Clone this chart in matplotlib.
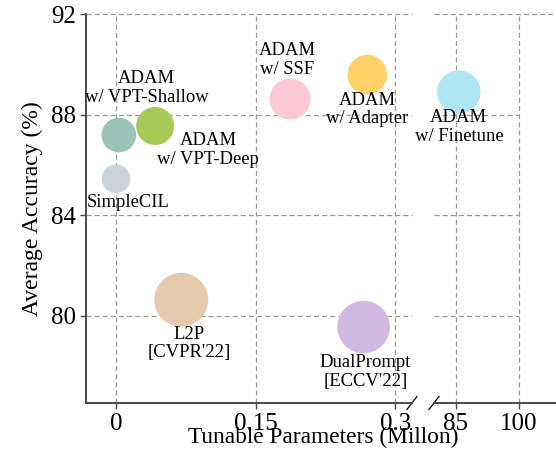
import matplotlib
matplotlib.use("Agg")
import matplotlib.pyplot as plt

plt.rcParams['font.family'] = ['Liberation Serif', 'DejaVu Serif']

# ---- data ----
methods = ["SimpleCIL", "ADAM\nw/ VPT-Shallow", "ADAM\nw/ VPT-Deep", "ADAM\nw/ SSF",
           "ADAM\nw/ Adapter", "ADAM\nw/ Finetune", "L2P\n[CVPR'22]", "DualPrompt\n[ECCV'22]"]
params_m = [0.0, 0.003, 0.042, 0.187, 0.270, 85.7, 0.070, 0.266]
accuracy = [85.45, 87.19, 87.55, 88.62, 89.59, 88.90, 80.64, 79.56]
colors = ["#CDD3DA", "#9CC3B8", "#A7C957", "#FFC8D5", "#FFD166", "#AEE6F2", "#E6CAAD", "#D3B8E2"]
left_xticks = [0, 0.15, 0.3]
left_xticklabels = ["0", "0.15", "0.3"]
right_xticks = [85, 100]
right_xticklabels = ["85", "100"]
yticks = [80, 84, 88, 92]

# style: bubble radius (pixels) and label offsets (pixels)
radius_px = [14.3, 17.3, 19.0, 20.5, 19.8, 21.7, 27.0, 26.3]
label_off = [(12, -24), (28, 47), (53, -24), (-3, 39), (0, -35), (0, -35), (8, -44), (2, -45)]

W, H = 556, 453
dpi = 100
fig = plt.figure(figsize=(W / dpi, H / dpi), dpi=dpi)

def frac(x0, x1, y0, y1):
    return [x0 / W, 1 - y1 / H, (x1 - x0) / W, (y1 - y0) / H]

ax1 = fig.add_axes(frac(86, 412, 14, 403))
ax2 = fig.add_axes(frac(434, 556, 14, 403))

ylim = (76.54, 92.0)
xlim1 = (-0.0323, 0.318)
xlim2 = (79.8, 108.8)

grid_kw = dict(color="#9a9a9a", linestyle=(0, (4, 2.5)), linewidth=0.9)
spine_col = "#4a4a4a"

for ax in (ax1, ax2):
    ax.set_ylim(*ylim)
    ax.spines['top'].set_visible(False)
    ax.spines['right'].set_visible(False)
    ax.spines['bottom'].set_color(spine_col)
    ax.spines['bottom'].set_linewidth(1.4)
    ax.tick_params(axis='both', direction='out', length=4, width=1, color=spine_col,
                   labelsize=18, pad=3)
    ax.set_axisbelow(True)

ax1.set_xlim(*xlim1)
ax2.set_xlim(*xlim2)
ax1.spines['left'].set_color(spine_col)
ax1.spines['left'].set_linewidth(1.4)
ax2.spines['left'].set_visible(False)

ax1.set_xticks(left_xticks, left_xticklabels)
ax1.set_yticks(yticks, [str(v) for v in yticks])
ax2.set_xticks(right_xticks, right_xticklabels)
ax2.set_yticks([])
ax2.tick_params(axis='y', left=False, labelleft=False)

ax1.grid(True, **grid_kw)
for xv in right_xticks:
    ax2.axvline(xv, **grid_kw, zorder=0.5)
for yv in yticks:
    if yv == 92:
        ax2.axhline(yv, **grid_kw, zorder=0.5, clip_on=False)
    else:
        ax2.axhline(yv, xmin=0, xmax=(100 - xlim2[0]) / (xlim2[1] - xlim2[0]),
                    **grid_kw, zorder=0.5)
for gl in ax1.get_ygridlines():
    gl.set_clip_on(False)

for name, x, y, c, r, off in zip(methods, params_m, accuracy, colors, radius_px, label_off):
    ax = ax2 if x > 1 else ax1
    s = (2 * r * 72 / dpi) ** 2
    ax.scatter([x], [y], s=s, color=c, edgecolors='none', zorder=3)
    ax.annotate(name, (x, y), xytext=off, textcoords='offset pixels',
                ha='center', va='center', fontsize=13.4, linespacing=1.1,
                zorder=5, annotation_clip=False)

# break marks
dx1, dy1 = 5 / 326, 6.5 / 389
dx2 = 5 / 122
kw = dict(color='black', linewidth=0.9, clip_on=False)
ax1.plot([1 - dx1, 1 + dx1], [-dy1, dy1], transform=ax1.transAxes, **kw)
ax2.plot([-dx2, dx2], [-dy1, dy1], transform=ax2.transAxes, **kw)

fig.text(323 / W, 1 - 437 / H, "Tunable Parameters (Millon)", ha='center', va='center',
         fontsize=16.8)
ax1.set_ylabel("Average Accuracy (%)", fontsize=17, labelpad=6)

fig.savefig("out.png", dpi=dpi)
